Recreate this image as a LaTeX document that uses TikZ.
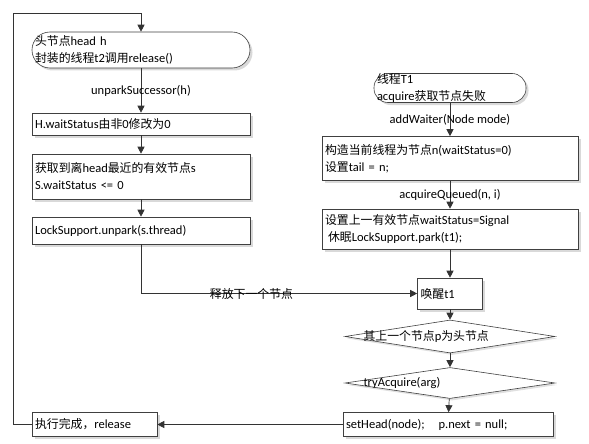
\documentclass[tikz,border=0pt]{standalone}
\usepackage{fontspec}
\setmainfont{Carlito}
\newfontfamily\cjk[Scale=0.95]{Noto Sans CJK SC}
\usetikzlibrary{shapes.geometric,arrows.meta,shadows}

\begin{document}
\begin{tikzpicture}[x=1pt,y=-1pt,
    font=\fontsize{12.5}{17}\selectfont,
    kasten/.style={draw=black!75, fill=white, line width=0.6pt, align=left,
        inner xsep=3pt, inner ysep=0pt,
        drop shadow={shadow xshift=2.5pt, shadow yshift=-2.5pt, fill=black!15, opacity=1}},
    raute/.style={diamond, draw=black!75, fill=white, line width=0.6pt, inner sep=0pt,
        drop shadow={shadow xshift=2pt, shadow yshift=-2pt, fill=black!12, opacity=1}},
    pfeil/.style={draw=black!80, line width=0.7pt, -{Triangle[length=7pt,width=7pt]}}]
    \useasboundingbox (0,0) rectangle (589,444);

    % linke Spalte
    \node[kasten, rounded corners=18pt, text width=212pt, minimum height=36pt] (kopf) at (141,50)
        {{\cjk 头节点}head h\\{\cjk 封装的线程}t2{\cjk 调用}release()};
    \node[kasten, text width=212pt, minimum height=22pt] (hwait) at (141,124)
        {H.waitStatus{\cjk 由非}0{\cjk 修改为}0};
    \node[kasten, text width=212pt, minimum height=45pt] (suche) at (141,176.5)
        {{\cjk 获取到离}head{\cjk 最近的有效节点}s\\S.waitStatus <= 0};
    \node[kasten, text width=212pt, minimum height=27pt] (unpark) at (141,230.5)
        {LockSupport.unpark(s.thread)};
    \node[kasten, text width=119pt, minimum height=24pt] (fertig) at (94.5,424.5)
        {{\cjk 执行完成，}release};
    \coordinate (ecke) at (13,13);

    % rechte Spalte
    \node[kasten, rounded corners=14pt, text width=146pt, minimum height=28pt] (thread) at (450,88)
        {{\cjk 线程}T1\\acquire{\cjk 获取节点失败}};
    \node[kasten, text width=250pt, minimum height=44pt] (bauen) at (450,158.5)
        {{\cjk 构造当前线程为节点}n(waitStatus=0)\\{\cjk 设置}tail = n;};
    \node[kasten, text width=250pt, minimum height=40pt] (setzen) at (450,229)
        {{\cjk 设置上一有效节点}waitStatus=Signal\\\hspace{3pt}{\cjk 休眠}LockSupport.park(t1);};
    \node[kasten, text width=59pt, minimum height=31pt] (wecken) at (450,293.5)
        {{\cjk 唤醒}t1};
    \node[raute, minimum width=210pt, minimum height=33pt] (vorg) at (450,336.5) {};
    \node[anchor=west] (vorgtext) at (360,336.5) {{\cjk 其上一个节点}p{\cjk 为头节点}};
    \node[raute, minimum width=210pt, minimum height=31pt] (versuch) at (450,383) {};
    \node[anchor=west] (versuchtext) at (360,383) {tryAcquire(arg)};
    \node[kasten, text width=204pt, minimum height=24pt] (neukopf) at (448,424.5)
        {setHead(node);\hspace{14pt}p.next = null;};

    % Verbindungen links
    \draw[pfeil] (kopf) -- node {unparkSuccessor(h)} (hwait);
    \draw[pfeil] (hwait) -- (suche);
    \draw[pfeil] (suche) -- (unpark);
    \draw[pfeil] (unpark.south) |- node[pos=0.7] {\cjk 释放下一个节点} (wecken.west);
    \draw[pfeil] (fertig.west) -| (ecke) -| (kopf.north);

    % Verbindungen rechts
    \draw[pfeil] (thread) -- node {addWaiter(Node mode)} (bauen);
    \draw[pfeil] (bauen) -- node {acquireQueued(n, i)} (setzen);
    \draw[pfeil] (setzen) -- (wecken);
    \draw[pfeil] (wecken) -- (vorg);
    \draw[pfeil] (vorg) -- (versuch);
    \draw[pfeil] (versuch) -- (neukopf);
    \draw[pfeil] (neukopf) -- (fertig);
\end{tikzpicture}
\end{document}
